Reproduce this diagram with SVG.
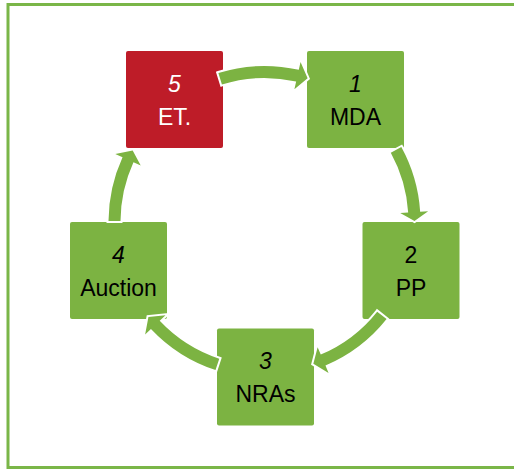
<svg xmlns="http://www.w3.org/2000/svg" width="514" height="469" viewBox="0 0 514 469">
<style>
.frame{fill:none;stroke:#7AB648;stroke-width:3}
.node{fill:#7CB342}
.red{fill:#BE1C28}
.num{font-family:"Liberation Sans",Arial,sans-serif;font-size:23px;font-style:italic;text-anchor:middle;fill:#000}
.up{font-style:normal}
.lbl{font-family:"Liberation Sans",Arial,sans-serif;font-size:23px;text-anchor:middle;fill:#000}
.w{fill:#fff}
.arrow{fill:#7CB342;stroke:#fff;stroke-width:4;paint-order:stroke;stroke-linejoin:miter}
</style>
<rect x="0" y="0" width="514" height="469" fill="#fff"/>
<rect class="frame" x="8" y="4.5" width="520" height="463"/>
<g id="node5">
<rect class="red" x="126" y="51" width="97" height="97" rx="2"/>
<text class="num w" x="174.5" y="91.5">5</text>
<text class="lbl w" x="174.5" y="124.5">ET.</text>
</g>
<g id="node1">
<rect class="node" x="307" y="51" width="97" height="97" rx="2"/>
<text class="num" x="355.5" y="91.5">1</text>
<text class="lbl" x="355.5" y="124.5">MDA</text>
</g>
<g id="node2">
<rect class="node" x="362.5" y="222" width="97" height="97" rx="2"/>
<text class="num up" x="411" y="262.5">2</text>
<text class="lbl" x="411" y="295.5">PP</text>
</g>
<g id="node3">
<rect class="node" x="217" y="328.5" width="97" height="97" rx="2"/>
<text class="num" x="265.5" y="369">3</text>
<text class="lbl" x="265.5" y="402">NRAs</text>
</g>
<g id="node4">
<rect class="node" x="70" y="222" width="97" height="97" rx="2"/>
<text class="num" x="118.5" y="262.5">4</text>
<text class="lbl" x="118.5" y="295.5">Auction</text>
</g>
<g id="connectors">
<path class="arrow" d="M218.37,72.97 A156,156 0 0 1 298.79,69.82 L300.55,62.02 L307.61,78.33 L294.39,89.33 L296.15,81.53 A144,144 0 0 0 221.92,84.44 Z"/>
<path class="arrow" d="M401.33,147.09 A156,156 0 0 1 420.16,211.66 L428.14,211.13 L414.5,220.95 L400.2,212.98 L408.18,212.45 A144,144 0 0 0 390.8,152.85 Z"/>
<path class="arrow" d="M386.59,319.11 A156,156 0 0 1 325.45,365.6 L328.57,372.96 L313.34,363.83 L317.64,347.19 L320.76,354.55 A144,144 0 0 0 377.19,311.64 Z"/>
<path class="arrow" d="M215.52,370.11 A156,156 0 0 1 150.96,328.98 L145.14,334.47 L148.43,317.01 L165.52,315.27 L159.7,320.76 A144,144 0 0 0 219.28,358.71 Z"/>
<path class="arrow" d="M108.5,220.91 A156,156 0 0 1 122.54,157.31 L115.26,153.99 L132.68,150.42 L140.74,165.6 L133.46,162.28 A144,144 0 0 0 120.5,221 Z"/>
</g>
</svg>
